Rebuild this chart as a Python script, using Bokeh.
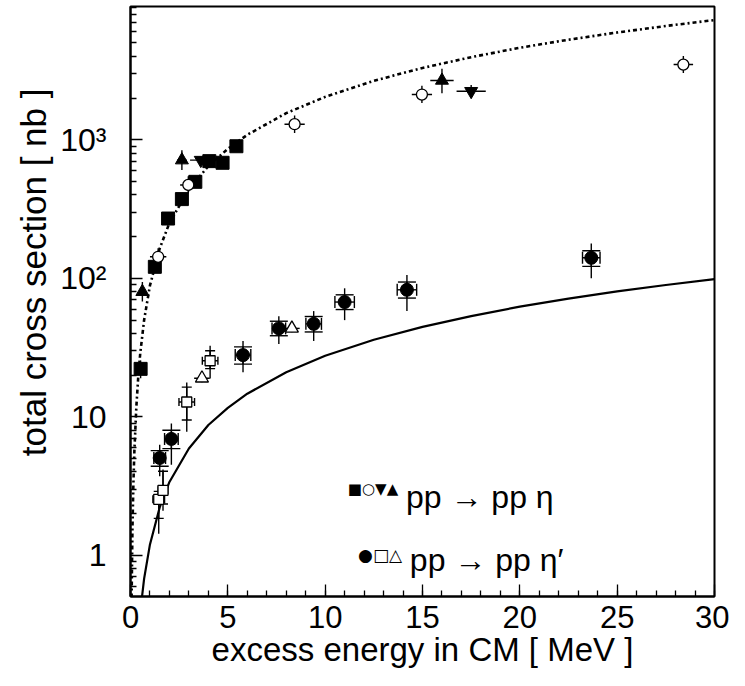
from bokeh.plotting import figure
from bokeh.models import Range1d, FixedTicker, Whisker, TeeHead, ColumnDataSource, Label, Title
from bokeh.core.properties import value
from bokeh.embed import file_html
from bokeh.resources import INLINE

# ---------------- data: pp -> pp eta ----------------
eta_sq_x = [0.52, 1.25, 1.93, 2.64, 3.33, 4.05, 4.73, 5.44]
eta_sq_y = [22.2, 121, 270, 373, 497, 701, 682, 898]
eta_sq_ylo = [19.0, 121, 270, 373, 497, 701, 682, 898]
eta_sq_yhi = [25.5, 121, 270, 373, 497, 701, 682, 898]

eta_oc_x = [1.42, 2.97, 8.43, 14.97, 28.4]
eta_oc_y = [143, 472, 1295, 2120, 3490]
eta_oc_xerr = [0.42, 0.42, 0.52, 0.52, 0.5]
eta_oc_ylo = [124, 410, 1120, 1840, 3030]
eta_oc_yhi = [165, 545, 1495, 2450, 4020]

eta_tu_x = [0.61, 2.64, 16.0]
eta_tu_y = [80, 713, 2680]
eta_tu_xerr = [0.0, 0.25, 0.6]
eta_tu_ylo = [68, 605, 2170]
eta_tu_yhi = [94, 840, 3250]

eta_td_x = [3.61, 17.5]
eta_td_y = [713, 2240]
eta_td_xerr = [0.55, 0.75]
eta_td_ylo = [690, 2020]
eta_td_yhi = [735, 2480]

# ---------------- data: pp -> pp eta' ----------------
etap_fc_x = [1.5, 2.1, 5.78, 7.62, 9.41, 11.0, 14.2, 23.67]
etap_fc_y = [5.05, 6.93, 27.9, 43.5, 46.9, 67.4, 82.6, 140.6]
etap_fc_xerr = [0.3, 0.35, 0.4, 0.35, 0.4, 0.5, 0.5, 0.45]
etap_fc_tot_lo = [3.73, 4.52, 21.0, 33.5, 35.3, 49.9, 58.0, 100]
etap_fc_tot_hi = [6.28, 8.97, 35.3, 53.2, 58.0, 84.7, 105.6, 178]
etap_fc_st_lo = [4.4, 5.9, 24.0, 38.5, 41.0, 59.5, 72.0, 122]
etap_fc_st_hi = [5.7, 8.0, 32.0, 49.0, 53.0, 76.0, 94.0, 158]

etap_os_x = [1.45, 1.67, 2.89, 4.09]
etap_os_y = [2.54, 2.95, 12.8, 25.4]
etap_os_xerr = [0.3, 0.25, 0.4, 0.4]
etap_os_tot_lo = [1.43, 2.1, 7.8, 18.9]
etap_os_tot_hi = [3.0, 4.16, 17.7, 32.6]
etap_os_st_lo = [1.85, 2.35, 9.5, 22.3]
etap_os_st_hi = [2.9, 4.05, 16.4, 30.0]

etap_ot_x = [3.67, 8.29]
etap_ot_y = [19.0, 43.5]
etap_ot_xerr = [0.4, 0.4]
etap_ot_ylo = [17.8, 40.8]
etap_ot_yhi = [20.3, 46.4]

# ---------------- curves ----------------
curve_x = [0.03, 0.05, 0.1, 0.15, 0.2, 0.3, 0.4, 0.5, 0.7, 1.0, 1.5, 2, 3, 4, 5, 6,
           8, 10, 12.5, 15, 17.5, 20, 22.5, 25, 27.5, 30]
eta_curve_y = [0.15, 0.41, 1.56, 3.35, 5.7, 11.8, 19.6, 28.7, 50, 88.8, 164, 251, 438, 646,
               860, 1086, 1556, 2040, 2665, 3300, 3946, 4614, 5275, 5948, 6625, 7310]
etap_curve_y = [0.002, 0.0055, 0.021, 0.045, 0.077, 0.16, 0.265, 0.39, 0.68, 1.20, 2.22,
                3.39, 5.91, 8.73, 11.6, 14.7, 21.0, 27.6, 36.0, 44.6, 53.3, 62.4, 71.3,
                80.4, 89.5, 98.7]

x_ticks = [0, 5, 10, 15, 20, 25, 30]
y_ticks = [1, 10, 100, 1000]
y_tick_labels = {1: "1", 10: "10", 100: "10²", 1000: "10³"}

FONT = "Liberation Sans"

p = figure(width=729, height=670, output_backend="svg", toolbar_location=None,
           x_range=Range1d(0, 30), y_range=Range1d(0.505, 9160), y_axis_type="log",
           min_border_left=130, min_border_right=15, min_border_top=6, min_border_bottom=70)
p.background_fill_color = "white"
p.border_fill_color = "white"
p.outline_line_color = "black"
p.outline_line_width = 2
p.xgrid.visible = False
p.ygrid.visible = False

minor_y = [v * m for v in [0.1, 1, 10, 100, 1000] for m in range(2, 10)]
p.xaxis.ticker = FixedTicker(ticks=x_ticks, minor_ticks=list(range(0, 31)))
p.yaxis.ticker = FixedTicker(ticks=y_ticks, minor_ticks=minor_y)
p.yaxis.major_label_overrides = y_tick_labels

for ax in (p.xaxis[0], p.yaxis[0]):
    ax.axis_line_color = "black"
    ax.axis_line_width = 2
    ax.major_tick_line_color = "black"
    ax.minor_tick_line_color = "black"
    ax.major_tick_line_width = 1.3
    ax.minor_tick_line_width = 1.3
    ax.major_tick_out = 0
    ax.minor_tick_out = 0
    ax.major_tick_in = 12
    ax.minor_tick_in = 6
    ax.major_label_text_font = FONT
    ax.major_label_text_color = "black"
    ax.axis_label_text_font = FONT
    ax.axis_label_text_font_style = "normal"
    ax.axis_label_text_color = "black"

p.xaxis.major_label_text_font_size = "31px"
p.yaxis.major_label_text_font_size = "32px"

p.xaxis.axis_label = "excess energy in CM [ MeV ]"
p.xaxis.axis_label_text_font_size = "33px"
p.xaxis.major_label_standoff = 9
p.xaxis.axis_label_standoff = 0

p.yaxis.major_label_standoff = 24

# y-axis title, placed in the left side panel next to the axis
p.add_layout(Title(text="total cross section [ nb ]", align="right", offset=82,
                   text_font=FONT, text_font_size="35px", text_font_style="normal",
                   text_color="black", standoff=10), "left")

# curves
p.line(curve_x, eta_curve_y, line_color="black", line_width=2.6, line_dash="4 3 2 3")
p.line(curve_x, etap_curve_y, line_color="black", line_width=2.2)

def src(**kw):
    return ColumnDataSource(data=kw)

def lo(vals, errs):
    return [v - e for v, e in zip(vals, errs)]

def hi(vals, errs):
    return [v + e for v, e in zip(vals, errs)]

def whisker(source, base, lower, upper, dim, head=None):
    w = Whisker(source=source, base=base, lower=lower, upper=upper, dimension=dim,
                line_color="black", line_width=1.4,
                upper_head=(TeeHead(size=head, line_color="black", line_width=1.4) if head else None),
                lower_head=(TeeHead(size=head, line_color="black", line_width=1.4) if head else None))
    p.add_layout(w)

# eta error bars
s_sq = src(x=eta_sq_x, y=eta_sq_y, ylo=eta_sq_ylo, yhi=eta_sq_yhi)
whisker(s_sq, "x", "ylo", "yhi", "height")

s_oc = src(x=eta_oc_x, y=eta_oc_y, xlo=lo(eta_oc_x, eta_oc_xerr), xhi=hi(eta_oc_x, eta_oc_xerr),
           ylo=eta_oc_ylo, yhi=eta_oc_yhi)
whisker(s_oc, "y", "xlo", "xhi", "width")
whisker(s_oc, "x", "ylo", "yhi", "height")

s_tu = src(x=eta_tu_x, y=eta_tu_y, xlo=lo(eta_tu_x, eta_tu_xerr), xhi=hi(eta_tu_x, eta_tu_xerr),
           ylo=eta_tu_ylo, yhi=eta_tu_yhi)
whisker(s_tu, "y", "xlo", "xhi", "width")
whisker(s_tu, "x", "ylo", "yhi", "height")

s_td = src(x=eta_td_x, y=eta_td_y, xlo=lo(eta_td_x, eta_td_xerr), xhi=hi(eta_td_x, eta_td_xerr),
           ylo=eta_td_ylo, yhi=eta_td_yhi)
whisker(s_td, "y", "xlo", "xhi", "width")
whisker(s_td, "x", "ylo", "yhi", "height")

# eta' error bars
s_fc = src(x=etap_fc_x, y=etap_fc_y, xlo=lo(etap_fc_x, etap_fc_xerr), xhi=hi(etap_fc_x, etap_fc_xerr),
           tlo=etap_fc_tot_lo, thi=etap_fc_tot_hi, slo=etap_fc_st_lo, shi=etap_fc_st_hi)
whisker(s_fc, "y", "xlo", "xhi", "width", head=12)
whisker(s_fc, "x", "tlo", "thi", "height")
whisker(s_fc, "x", "slo", "shi", "height", head=18)

s_os = src(x=etap_os_x, y=etap_os_y, xlo=lo(etap_os_x, etap_os_xerr), xhi=hi(etap_os_x, etap_os_xerr),
           tlo=etap_os_tot_lo, thi=etap_os_tot_hi, slo=etap_os_st_lo, shi=etap_os_st_hi)
whisker(s_os, "y", "xlo", "xhi", "width", head=8)
whisker(s_os, "x", "tlo", "thi", "height")
whisker(s_os, "x", "slo", "shi", "height", head=10)

s_ot = src(x=etap_ot_x, y=etap_ot_y, xlo=lo(etap_ot_x, etap_ot_xerr), xhi=hi(etap_ot_x, etap_ot_xerr),
           ylo=etap_ot_ylo, yhi=etap_ot_yhi)
whisker(s_ot, "y", "xlo", "xhi", "width")
whisker(s_ot, "x", "ylo", "yhi", "height")

# markers
p.scatter("x", "y", source=s_sq, marker="square", size=13, fill_color="black", line_color="black")
p.scatter("x", "y", source=s_oc, marker="circle", size=11, fill_color="white", line_color="black", line_width=1.3)
p.scatter("x", "y", source=s_tu, marker="triangle", size=13, fill_color="black", line_color="black")
p.scatter("x", "y", source=s_td, marker="inverted_triangle", size=13, fill_color="black", line_color="black")
p.scatter("x", "y", source=s_fc, marker="circle", size=13, fill_color="black", line_color="black")
p.scatter("x", "y", source=s_os, marker="square", size=10, fill_color="white", line_color="black", line_width=1.3)
p.scatter("x", "y", source=s_ot, marker="triangle", size=13, fill_color="white", line_color="black", line_width=1.3)

# legend texts
p.add_layout(Label(x=14.15, y=2.63, text="pp → pp η", text_font=FONT, text_font_size="32px",
                   text_color="black", text_baseline="alphabetic", text_align="left"))
p.add_layout(Label(x=13.75, y=3.0, text="■○▼▲", text_font="DejaVu Sans", text_font_size="15px",
                   text_color="black", text_baseline="middle", text_align="right"))
p.add_layout(Label(x=14.35, y=0.93, text="pp → pp η′", text_font=FONT, text_font_size="32px",
                   text_color="black", text_baseline="alphabetic", text_align="left"))
p.add_layout(Label(x=13.95, y=1.01, text="●□△", text_font="DejaVu Sans", text_font_size="17px",
                   text_color="black", text_baseline="middle", text_align="right"))

open("out.html", "w").write(file_html(p, INLINE))
